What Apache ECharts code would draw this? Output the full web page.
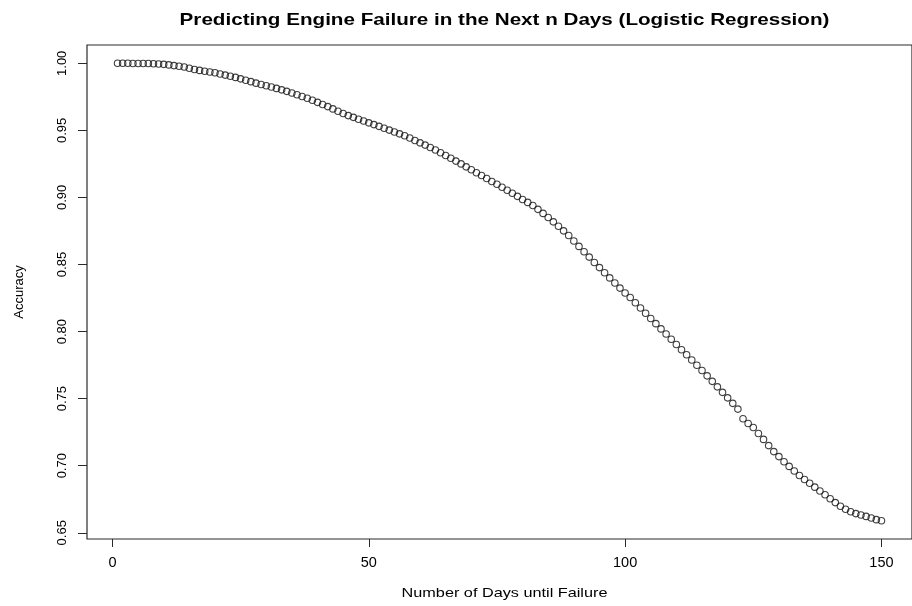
<!DOCTYPE html>
<html>
<head>
<meta charset="utf-8">
<script src="https://cdn.jsdelivr.net/npm/echarts@6/dist/echarts.min.js"></script>
<style>
html,body{margin:0;padding:0;background:#fff;}
#chart{width:912px;height:606px;}
</style>
</head>
<body>
<div id="chart"></div>
<script>
// Days until failure (x) and accuracy (y)
const days = [];
for (let d = 1; d <= 150; d++) days.push(d);
const accuracy = [
  1.0000, 1.0000, 1.0000, 0.9999, 0.9999, 0.9998, 0.9998, 0.9997, 0.9995, 0.9992,
  0.9988, 0.9983, 0.9978, 0.9972, 0.9963, 0.9954, 0.9947, 0.9941, 0.9935, 0.9929,
  0.9920, 0.9912, 0.9903, 0.9895, 0.9884, 0.9874, 0.9863, 0.9852, 0.9842, 0.9833,
  0.9823, 0.9813, 0.9802, 0.9791, 0.9779, 0.9766, 0.9753, 0.9739, 0.9724, 0.9709,
  0.9693, 0.9677, 0.9660, 0.9642, 0.9626, 0.9610, 0.9597, 0.9583, 0.9570, 0.9556,
  0.9543, 0.9530, 0.9516, 0.9502, 0.9488, 0.9474, 0.9460, 0.9443, 0.9425, 0.9407,
  0.9390, 0.9372, 0.9354, 0.9333, 0.9313, 0.9292, 0.9271, 0.9250, 0.9228, 0.9206,
  0.9184, 0.9163, 0.9141, 0.9119, 0.9098, 0.9076, 0.9054, 0.9031, 0.9008, 0.8985,
  0.8963, 0.8940, 0.8911, 0.8881, 0.8850, 0.8818, 0.8785, 0.8751, 0.8716, 0.8675,
  0.8635, 0.8595, 0.8555, 0.8515, 0.8477, 0.8438, 0.8400, 0.8362, 0.8324, 0.8287,
  0.8254, 0.8215, 0.8176, 0.8137, 0.8098, 0.8059, 0.8020, 0.7982, 0.7943, 0.7904,
  0.7865, 0.7827, 0.7788, 0.7749, 0.7710, 0.7670, 0.7629, 0.7588, 0.7547, 0.7506,
  0.7465, 0.7422, 0.7350, 0.7315, 0.7285, 0.7240, 0.7196, 0.7150, 0.7105, 0.7068,
  0.7030, 0.6995, 0.6960, 0.6927, 0.6897, 0.6869, 0.6840, 0.6812, 0.6783, 0.6754,
  0.6725, 0.6698, 0.6675, 0.6657, 0.6643, 0.6632, 0.6622, 0.6610, 0.6598, 0.6590
];
const xTicks = [0, 50, 100, 150];
const yTicks = [0.65, 0.70, 0.75, 0.80, 0.85, 0.90, 0.95, 1.00];
const titleText = 'Predicting Engine Failure in the Next n Days (Logistic Regression)';
const xName = 'Number of Days until Failure';
const yName = 'Accuracy';

const points = days.map((d, i) => [d, accuracy[i]]);
// R-style 4% padding around the data range
const xPad = (days[days.length - 1] - days[0]) * 0.04;
const yMinV = Math.min(...accuracy), yMaxV = Math.max(...accuracy);
const yPad = (yMaxV - yMinV) * 0.04;

const W = 912, H = 606;
const gridL = 87, gridR = -10, gridT = 45, gridB = 67;
const plotCX = (gridL + (W - gridR)) / 2;
const font = '"Liberation Sans", Arial, sans-serif';

const chart = echarts.init(document.getElementById('chart'), null, {renderer: 'canvas'});
chart.setOption({
  backgroundColor: '#ffffff',
  animation: false,
  grid: {
    left: gridL, right: gridR, top: gridT, bottom: gridB,
    show: true, borderColor: '#2a2a2a', borderWidth: 1.2, backgroundColor: 'transparent'
  },
  graphic: [
    {
      type: 'text', x: plotCX, y: 20, scaleX: 1.25,
      style: {text: titleText, fontFamily: font, fontWeight: 'bold', fontSize: 16.5,
        fill: '#000', align: 'center', verticalAlign: 'middle'}
    },
    {
      type: 'text', x: plotCX, y: H - 13, scaleX: 1.25,
      style: {text: xName, fontFamily: font, fontSize: 13, fill: '#000',
        align: 'center', verticalAlign: 'middle'}
    }
  ],
  xAxis: {
    type: 'value',
    min: days[0] - xPad, max: days[days.length - 1] + xPad,
    axisLine: {show: false, onZero: false},
    axisTick: {show: true, customValues: xTicks, length: 8, lineStyle: {color: '#2a2a2a'}},
    axisLabel: {customValues: xTicks, fontFamily: font, fontSize: 14.5, color: '#000', margin: 16},
    splitLine: {show: false}
  },
  yAxis: {
    type: 'value',
    min: yMinV - yPad, max: yMaxV + yPad,
    name: yName, nameLocation: 'middle', nameGap: 61, nameRotate: 90,
    nameTextStyle: {fontFamily: font, fontSize: 13, color: '#000'},
    axisLine: {show: false, onZero: false},
    axisTick: {show: true, customValues: yTicks, length: 9, lineStyle: {color: '#2a2a2a'}},
    axisLabel: {customValues: yTicks, rotate: 90, fontFamily: font, fontSize: 13, color: '#000', margin: 18,
      formatter: v => v.toFixed(2)},
    splitLine: {show: false}
  },
  series: [{
    type: 'scatter',
    data: points,
    symbol: 'circle',
    symbolSize: 6.5,
    itemStyle: {color: 'rgba(255,255,255,0)', borderColor: '#111', borderWidth: 1.1}
  }]
});
</script>
</body>
</html>
